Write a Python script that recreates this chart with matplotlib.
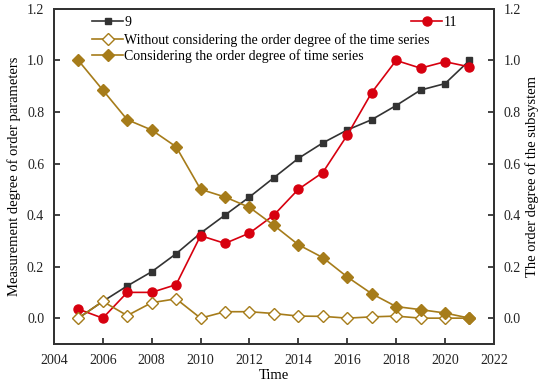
import matplotlib
matplotlib.use("Agg")
import matplotlib.pyplot as plt
from matplotlib.lines import Line2D

plt.rcParams['font.family'] = ['Liberation Serif', 'DejaVu Serif']

years = list(range(2005, 2022))
s9 = [0.0, 0.065, 0.125, 0.18, 0.25, 0.33, 0.40, 0.47, 0.545, 0.62, 0.68, 0.73, 0.77, 0.825, 0.885, 0.91, 1.0]
s11 = [0.035, 0.0, 0.10, 0.10, 0.13, 0.32, 0.29, 0.33, 0.40, 0.50, 0.565, 0.71, 0.875, 1.0, 0.97, 0.995, 0.975]
without_order = [0.0, 0.065, 0.01, 0.06, 0.075, 0.0, 0.025, 0.025, 0.018, 0.008, 0.007, 0.0, 0.005, 0.008, 0.0, 0.0, 0.0]
with_order = [1.0, 0.885, 0.77, 0.73, 0.665, 0.50, 0.47, 0.43, 0.36, 0.285, 0.235, 0.16, 0.095, 0.045, 0.033, 0.02, 0.0]

xticks = [2004, 2006, 2008, 2010, 2012, 2014, 2016, 2018, 2020, 2022]
yticks = [0.0, 0.2, 0.4, 0.6, 0.8, 1.0, 1.2]

black = '#333333'
red = '#d7000f'
gold = '#a67c1a'

fig = plt.figure(figsize=(5.5, 3.86), dpi=100)
ax = fig.add_axes([0.098, 0.109, 0.800, 0.868])
ax2 = ax.twinx()

l9, = ax.plot(years, s9, color=black, marker='s', ms=5, lw=1.2, label='9')
l11, = ax.plot(years, s11, color=red, marker='o', ms=6.5, lw=1.2, label='11')
lw, = ax2.plot(years, without_order, color=gold, marker='D', ms=6, mfc='white', mec=gold, mew=1.0, lw=1.2,
               label='Without considering the order degree of the time series')
lc, = ax2.plot(years, with_order, color=gold, marker='D', ms=6, lw=1.2,
               label='Considering the order degree of time series')

for a in (ax, ax2):
    a.set_ylim(-0.1, 1.2)
    a.set_yticks(yticks)
    a.set_yticklabels([f'{v:.1f}' for v in yticks])
    a.tick_params(direction='in', labelsize=10, width=1.2, length=4, pad=7, colors='#222222')
    for sp in a.spines.values():
        sp.set_linewidth(1.4)
        sp.set_color('#333333')
ax.set_xlim(2004, 2022)
ax.set_xticks(xticks)
ax.set_xlabel('Time', fontsize=10.5, labelpad=2)
ax.set_ylabel('Measurement degree of order parameters', fontsize=10.5, labelpad=4)
ax2.set_ylabel('The order degree of the subsystem', fontsize=10.5, labelpad=3)

leg_kw = dict(frameon=False, fontsize=10, handlelength=2.2, handletextpad=0.1,
              borderaxespad=0, labelspacing=0.15)
leg1 = ax2.legend(handles=[l9], loc='upper left', bbox_to_anchor=(0.075, 0.995), **leg_kw)
ax2.add_artist(leg1)
leg2 = ax2.legend(handles=[l11], loc='upper left', bbox_to_anchor=(0.80, 0.995), **leg_kw)
ax2.add_artist(leg2)
leg3 = ax2.legend(handles=[lw, lc], loc='upper left', bbox_to_anchor=(0.075, 0.945), **leg_kw)

fig.savefig('out.png', dpi=100)
